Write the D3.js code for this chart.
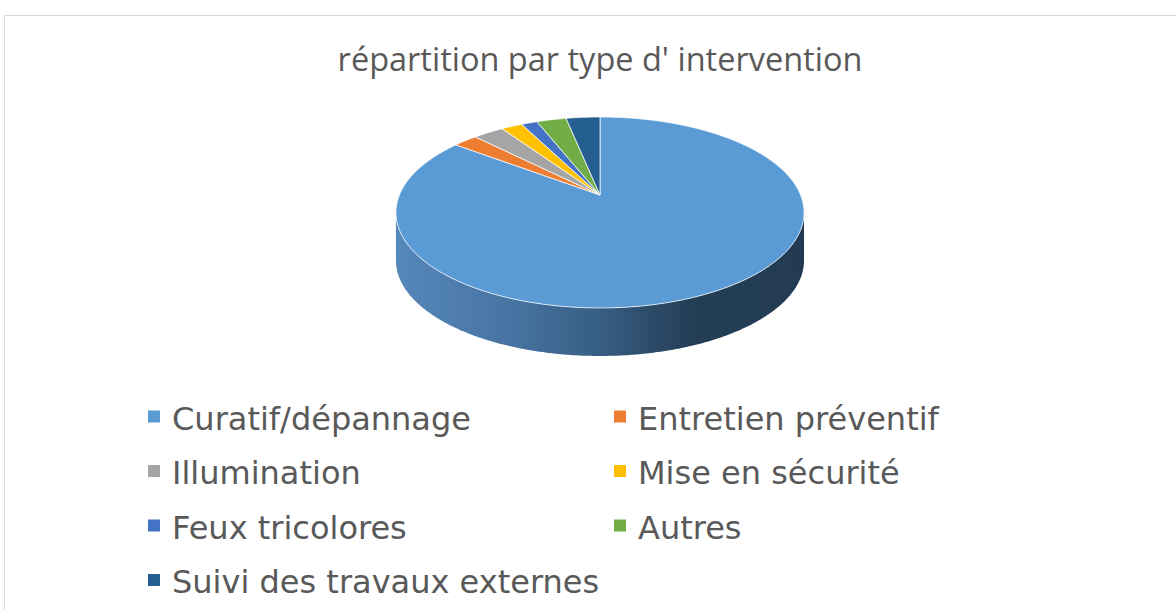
<!DOCTYPE html>
<html>
<head>
<meta charset="utf-8">
<script src="https://cdn.jsdelivr.net/npm/d3@7"></script>
<style>
  body { margin: 0; background: #fff; }
</style>
</head>
<body>
<div id="chart"></div>
<script>
// data (share of interventions, %)
const categories = ["Curatif/dépannage", "Entretien préventif", "Illumination", "Mise en sécurité", "Feux tricolores", "Autres", "Suivi des travaux externes"];
const values = [85.3, 2.3, 2.9, 2.0, 1.5, 2.8, 3.2];
const colors = ["#5B9BD5", "#ED7D31", "#A5A5A5", "#FFC000", "#4472C4", "#70AD47", "#255E91"];
const title = "répartition par type d' intervention";

const width = 1176, height = 610;
const svg = d3.select("#chart").append("svg")
  .attr("width", width)
  .attr("height", height);

// chart frame
svg.append("rect")
  .attr("x", 4.5).attr("y", 15.5)
  .attr("width", 1300).attr("height", 700)
  .attr("fill", "#fff")
  .attr("stroke", "#d9d9d9");

svg.append("text")
  .attr("x", 600).attr("y", 71)
  .attr("text-anchor", "middle")
  .attr("font-family", "Open Sans")
  .attr("font-size", "32.5px")
  .attr("fill", "#595959")
  .text(title);

// 3D pie, tilted disc seen in perspective
const cx = 600, cy = 195;
const rx = 200.6, ry = 92.3;
const persp = 0.183;
const depth = 48;

function proj(a, r, drop) {
  const u = r * Math.sin(a), v = r * Math.cos(a), w = 1 + persp * v;
  return [cx + rx * u / w, cy - ry * v / w + drop];
}

function arcPoints(a0, a1, drop) {
  const n = Math.max(2, Math.ceil((a1 - a0) / 0.01));
  const pts = [];
  for (let i = 0; i <= n; i++) pts.push(proj(a0 + (a1 - a0) * i / n, 1, drop));
  return pts;
}

const arcs = d3.pie().sort(null).value(d => d)(values);
const line = d3.line();

const defs = svg.append("defs");
const grad = defs.append("linearGradient")
  .attr("id", "side")
  .attr("gradientUnits", "userSpaceOnUse")
  .attr("x1", 396).attr("x2", 805).attr("y1", 0).attr("y2", 0);
[[0, "#5687bb"], [0.3, "#4672a0"], [0.5, "#375d82"], [0.72, "#243e57"], [1, "#223b52"]]
  .forEach(s => grad.append("stop").attr("offset", s[0]).attr("stop-color", s[1]));

// visible outer wall (front part of the rim)
const frontStart = Math.acos(-persp), frontEnd = 2 * Math.PI - frontStart;
arcs.forEach((d, i) => {
  const a0 = Math.max(d.startAngle, frontStart), a1 = Math.min(d.endAngle, frontEnd);
  if (a1 <= a0) return;
  const pts = arcPoints(a0, a1, 0).concat(arcPoints(a0, a1, depth).reverse());
  svg.append("path")
    .attr("d", line(pts) + "Z")
    .attr("fill", i == 0 ? "url(#side)" : d3.color(colors[i]).darker(1.2));
});

// top faces
arcs.forEach((d, i) => {
  const pts = [[cx, cy]].concat(arcPoints(d.startAngle, d.endAngle, 0));
  svg.append("path")
    .attr("d", line(pts) + "Z")
    .attr("fill", colors[i])
    .attr("stroke", "#fff")
    .attr("stroke-opacity", 0.75)
    .attr("stroke-width", 1)
    .attr("stroke-linejoin", "round");
});

// legend, two columns
const legendX = [148, 614], legendY = [429.5, 484, 538.5, 593];
const legend = svg.append("g");
categories.forEach((c, i) => {
  const x = legendX[i % 2], y = legendY[Math.floor(i / 2)];
  legend.append("rect")
    .attr("x", x).attr("y", y - 19)
    .attr("width", 12).attr("height", 12)
    .attr("fill", colors[i]);
  legend.append("text")
    .attr("x", x + 24).attr("y", y)
    .attr("font-family", "DejaVu Sans")
    .attr("font-size", "32px")
    .attr("fill", "#595959")
    .text(c);
});
</script>
</body>
</html>
